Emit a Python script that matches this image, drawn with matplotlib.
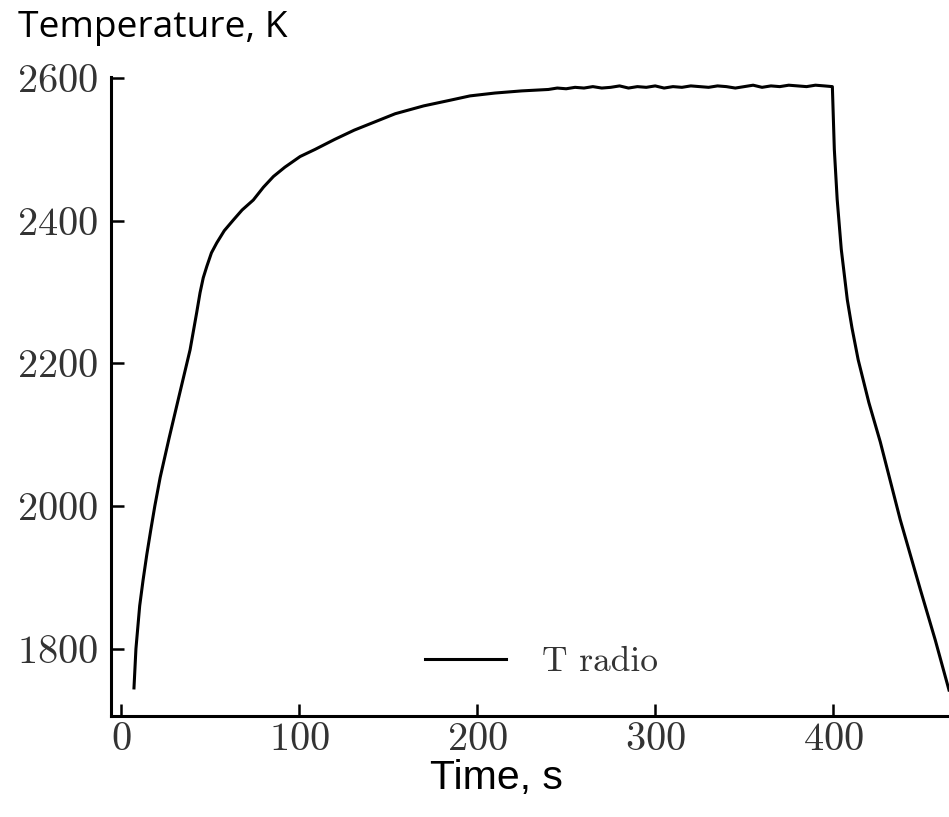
import matplotlib
matplotlib.use("Agg")
import matplotlib.pyplot as plt

# Data
time_s = [7.3, 8.4, 10.5, 12.4, 14.5, 16.7, 19, 22, 27, 32.5, 38.8, 42.5, 44.4, 46.2, 48.2, 50.8,
          53.8, 58, 63.1, 68, 74.3, 80, 85.6, 92, 100.6, 109, 120, 131, 142, 154, 170,
          185, 196, 210, 225, 240, 245, 250, 255, 260, 265, 270, 275, 280, 285, 290,
          295, 300, 305, 310, 315, 320, 325, 330, 335, 340, 345, 350, 355, 360, 365,
          370, 375, 380, 385, 390, 395, 399.5,
          400.6, 402.2, 404.5, 407.9, 410.5, 414, 420, 426.4, 437.6, 448.9, 457.3, 465]
temp_k = [1745, 1800, 1860, 1896, 1932, 1966, 2000, 2040, 2095, 2153, 2219, 2271, 2299, 2320, 2336, 2355,
          2369, 2386, 2401, 2415, 2429, 2447, 2462, 2475, 2490, 2500, 2514, 2527, 2538, 2550, 2561,
          2569, 2575, 2579, 2582, 2584, 2586, 2585, 2587, 2586, 2588, 2586, 2587, 2589, 2586, 2588,
          2587, 2589, 2586, 2588, 2587, 2589, 2588, 2587, 2589, 2588, 2586, 2588, 2590, 2587, 2589,
          2588, 2590, 2589, 2588, 2590, 2589, 2588,
          2500, 2430, 2360, 2289, 2250, 2205, 2145, 2090, 1981, 1883, 1812, 1742]

x_ticks = [0, 100, 200, 300, 400]
y_ticks = [1800, 2000, 2200, 2400, 2600]
series_label = "T radio"

plt.rcParams["axes.formatter.use_mathtext"] = True

fig = plt.figure(figsize=(9.49, 8.17), dpi=100)
ax = fig.add_axes([0.1166, 0.1242, 1.0 - 0.1166, 0.782])

ax.plot(time_s, temp_k, color="black", lw=2.2, label=series_label)

ax.set_xlim(-5.8, 465)
ax.set_ylim(1706.3, 2602)
ax.set_xticks(x_ticks)
ax.set_yticks(y_ticks)

for s in ["top", "right"]:
    ax.spines[s].set_visible(False)
for s in ["left", "bottom"]:
    ax.spines[s].set_linewidth(2.2)

ax.tick_params(direction="in", length=9, width=1.8, labelsize=29, colors="black")
ax.tick_params(axis="y", pad=9)
ax.tick_params(axis="x", pad=4.5)
for lab in ax.get_xticklabels() + ax.get_yticklabels():
    lab.set_fontfamily("cmr10")
    lab.set_color("#333333")

leg = ax.legend(loc="center left", bbox_to_anchor=(425 / 949, 1 - 662 / 817),
                bbox_transform=fig.transFigure, frameon=False, borderpad=0,
                borderaxespad=0, prop={"family": "cmr10", "size": 25.5},
                handlelength=2.3, handletextpad=1.0)
for t in leg.get_texts():
    t.set_color("#333333")

fig.text(18 / 949, 1 - 37 / 817, "Temperature, K", family="Open Sans", fontsize=26.7,
         ha="left", va="baseline", color="black")
fig.text(430 / 949, 1 - 789 / 817, "Time, s", family="Liberation Sans", fontsize=29.5,
         ha="left", va="baseline", color="black")

fig.savefig("out.png", dpi=100)
